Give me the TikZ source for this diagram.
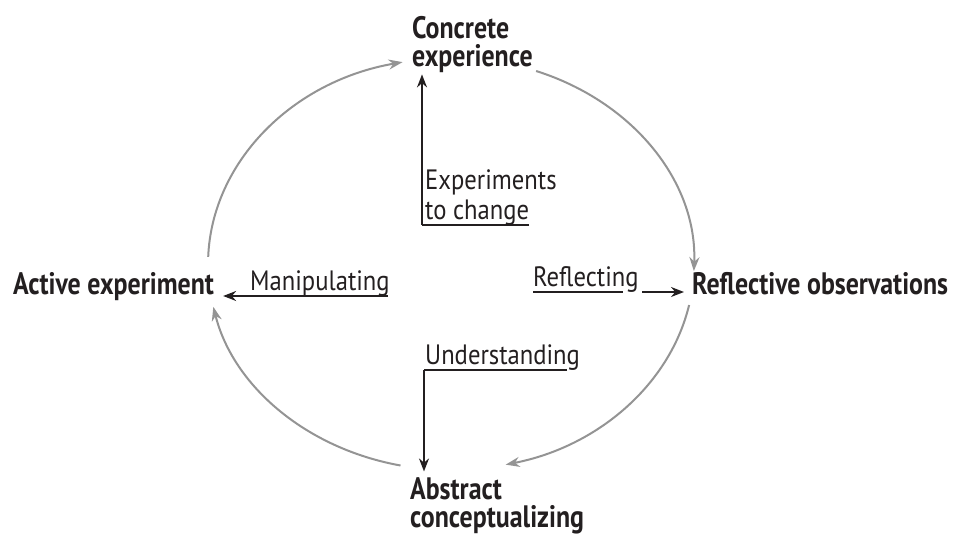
\documentclass[tikz,border=0pt]{standalone}
\usepackage{fontspec}
\newfontfamily\boldlbl{PT Sans Bold}[FakeStretch=0.835]
\newfontfamily\reglbl{PT Sans}[FakeStretch=0.88]
\usetikzlibrary{arrows.meta}
\definecolor{ink}{HTML}{231F20}
\definecolor{arcgrey}{HTML}{949494}
\tikzset{
  stage/.style={inner sep=0pt, align=left, font={\boldlbl\fontsize{31}{28}\selectfont}, text=ink},
  verb/.style={inner sep=0pt, align=left, font={\reglbl\fontsize{28}{30}\selectfont}, text=ink},
  cyc/.style={draw=arcgrey, line width=2pt, -{Stealth[length=14pt,width=10pt]}},
  act/.style={draw=ink, line width=1.8pt, -{Stealth[length=13pt,width=10pt]}},
  uline/.style={draw=ink, line width=1.6pt}
}
\begin{document}
\begin{tikzpicture}[x=1pt,y=1pt]
\useasboundingbox (0,0) rectangle (954,535);
% stage nodes (base anchor = baseline of last line)
\node[stage, anchor=base west] (ce) at (412,468) {Concrete\\experience};
\node[stage, anchor=base west] (ro) at (692,240) {Reflective observations};
\node[stage, anchor=base west] (ac) at (410,7.5) {Abstract\\conceptualizing};
\node[stage, anchor=base west] (ae) at (13,240) {Active experiment};
% verb nodes
\node[verb, anchor=base west] (ex) at (425,315) {Experiments\\to change};
\node[verb, anchor=base west] (rf) at (533,248) {Reflecting};
\node[verb, anchor=base west] (un) at (425,170) {Understanding};
\node[verb, anchor=base west] (mp) at (250,244) {Manipulating};
% corner coordinates
\coordinate (exc) at (422,310);
\coordinate (exe) at (529,310);
\coordinate (rfs) at (533,243);
\coordinate (rfe) at (623,243);
\coordinate (rfa) at (642,243);
\coordinate (unc) at (424,165);
\coordinate (une) at (567,165);
\coordinate (mpe) at (388,239);
% cycle arcs
\coordinate (c1) at (208.2,278.2);
\coordinate (c2) at (536.1,464);
\coordinate (c3) at (689.1,230);
\coordinate (c4) at (400.5,69.5);
\draw[cyc] (c1) arc[start angle=178, end angle=101.5, x radius=243pt, y radius=206pt];
\draw[cyc] (c2) arc[start angle=69.5, end angle=-2, x radius=243pt, y radius=206pt];
\draw[cyc] (c3) arc[start angle=-11.5, end angle=-77, x radius=243pt, y radius=206pt];
\draw[cyc] (c4) arc[start angle=258, end angle=192, x radius=243pt, y radius=206pt];
% action arrows
\draw[uline] (exe) -- (exc);
\draw[act] (exc) -- ([yshift=-1pt]exc |- ce.south);
\draw[uline] (rfs) -- (rfe);
\draw[act] (rfa) -- ([xshift=-8pt]rfa -| ro.west);
\draw[uline] (une) -- (unc);
\draw[act] (unc) -- ([yshift=6pt]unc |- ac.north);
\draw[act] (mpe) -- ([xshift=9pt]mpe -| ae.east);
\end{tikzpicture}
\end{document}
